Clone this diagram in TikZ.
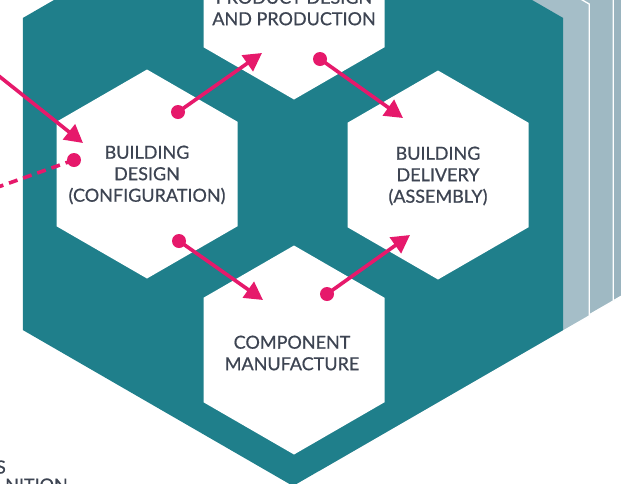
\documentclass[tikz,border=0pt]{standalone}
\usepackage{fontspec}
\setmainfont{Lato}[FakeBold=0.6]
\usepackage{tikz}
\usetikzlibrary{positioning}
\usetikzlibrary{shapes.geometric,arrows.meta,calc}
\definecolor{hexteal}{HTML}{1F7F8B}
\definecolor{hexpink}{HTML}{E6196B}
\definecolor{hextext}{HTML}{3D4452}
\definecolor{layerA}{HTML}{A5BEC8}
\definecolor{layerB}{HTML}{9FB9C3}
\definecolor{layerC}{HTML}{9AB4BF}
\tikzset{hexa/.style={regular polygon,regular polygon sides=6,shape border rotate=30,minimum size=209pt,inner sep=0pt,outer sep=0pt,fill=white}}
\tikzset{bighex/.style={regular polygon,regular polygon sides=6,shape border rotate=30,minimum size=624pt,inner sep=0pt,outer sep=0pt}}
\tikzset{layer/.style={bighex,draw=white,line width=1.3pt}}
\tikzset{caption/.style={align=center,text=hextext,inner sep=0pt,font=\fontsize{18}{21.5}\selectfont}}
\tikzset{dot/.style={circle,fill=hexpink,minimum size=14pt,inner sep=0pt}}
\tikzset{flow/.style={hexpink,line width=3.6pt,-{Triangle[length=18pt,width=19pt]}}}

\begin{document}
\begin{tikzpicture}[x=1pt,y=-1pt]
	\useasboundingbox (0,0) rectangle (621,483);
	\clip (0,0) rectangle (621,483);

	\node [layer,fill=layerC] (l3) at (367,131) {};
	\node [layer,fill=layerB] (l2) at (343,145) {};
	\node [layer,fill=layerA] (l1) at (319,160) {};
	\node [bighex,fill=hexteal] (core) at (293,174) {};

	\node [hexa] (product) at (294,-5) {};
	\node [hexa] (design) at (147,174) {};
	\node [hexa] (delivery) at (438,175) {};
	\node [hexa] (manuf) at (294,350) {};

	\node [caption] (lproduct) at (294,8) {PRODUCT DESIGN\\AND PRODUCTION};
	\node [caption] (ldesign) at (147,175) {BUILDING\\DESIGN\\(CONFIGURATION)};
	\node [caption] (ldelivery) at (438,176) {BUILDING\\DELIVERY\\(ASSEMBLY)};
	\node [caption] (lmanuf) at (292,353) {COMPONENT\\MANUFACTURE};

	\node [caption,anchor=east] (lcut1) at (6,467) {S};
	\node [caption,anchor=east] (lcut2) at (68,485) {NITION};

	\node [dot] (d1) at (178,112) {};
	\node [dot] (d2) at (320,59) {};
	\node [dot] (d3) at (179,241) {};
	\node [dot] (d4) at (327,294) {};
	\node [dot] (d5) at (74,160) {};

	\coordinate (t1) at (262,53);
	\coordinate (t2) at (403,118);
	\coordinate (t3) at (263,300);
	\coordinate (t4) at (410,235);
	\coordinate (t5) at (83,143);
	\coordinate (src) at (-30,53);
	\coordinate (out) at (-30,197);

	\draw [flow] (d1.center) -- (t1);
	\draw [flow] (d2.center) -- (t2);
	\draw [flow] (d3.center) -- (t3);
	\draw [flow] (d4.center) -- (t4);
	\draw [flow] (src) -- (t5);
	\draw [hexpink,line width=3.6pt,dash pattern=on 9pt off 6pt] (d5.center) -- (out);
\end{tikzpicture}
\end{document}
